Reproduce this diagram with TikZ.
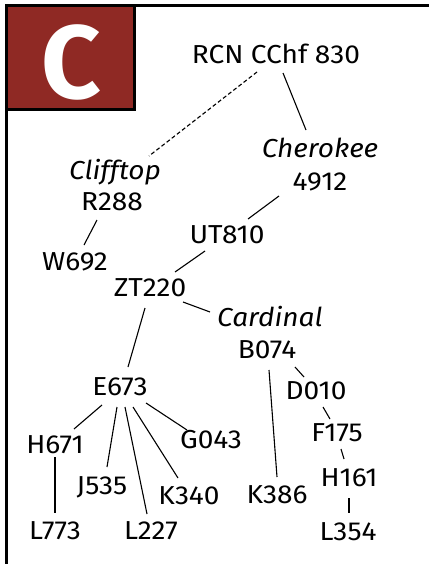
\documentclass[tikz,border=0pt]{standalone}
\usepackage{fontspec}
\setmainfont{Fira Sans}
\newfontfamily\labfont[FakeStretch=1.08]{Fira Sans}
\usetikzlibrary{calc}
\definecolor{boxred}{RGB}{143,41,36}
\tikzset{
  lab/.style={inner sep=0pt, text height=17.8pt, text depth=0pt, font=\labfont\fontsize{26}{26}\selectfont},
  ilab/.style={lab, font=\labfont\fontsize{26}{26}\selectfont\itshape},
  edge/.style={line width=1.1pt, line cap=butt},
  dedge/.style={edge, dash pattern=on 4pt off 2.5pt},
}
\begin{document}
\begin{tikzpicture}[x=1pt,y=-1pt]
\useasboundingbox (0,0) rectangle (429,564);
% frame
\draw[line width=3pt] (6,564) -- (6,6) -- (429,6);
\filldraw[fill=boxred, draw=black, line width=3pt] (6,6) rectangle (134,110);
\node[inner sep=0pt, text height=72pt, text depth=0pt, text=white, font=\fontsize{104}{104}\selectfont\bfseries] (C) at (71,63) {C};
% nodes
\node[lab] (rcn) at (276,55) {RCN CChf 830};
\node[ilab] (cher) at (320,149) {Cherokee};
\node[lab] (n4912) at (320,182) {4912};
\node[ilab] (clif) at (115,171) {Clifftop};
\node[lab] (r288) at (112,202) {R288};
\node[lab] (w692) at (75,262) {W692};
\node[lab] (ut810) at (227,235) {UT810};
\node[lab] (zt220) at (150,288) {ZT220};
\node[ilab] (card) at (270,318) {Cardinal};
\node[lab] (b074) at (267,350) {B074};
\node[lab] (d010) at (316,391) {D010};
\node[lab] (f175) at (337,433) {F175};
\node[lab] (h161) at (349,478) {H161};
\node[lab] (l354) at (348,532) {L354};
\node[lab] (k386) at (277,495) {K386};
\node[lab] (e673) at (120,387) {E673};
\node[lab] (h671) at (55,445) {H671};
\node[lab] (g043) at (211,440) {G043};
\node[lab] (j535) at (102,486) {J535};
\node[lab] (k340) at (189,496) {K340};
\node[lab] (l773) at (55,531) {L773};
\node[lab] (l227) at (151,531) {L227};
% edges
\draw[edge] ($(rcn)+(7,18)$) -- ($(cher)+(-14,-19)$);
\draw[dedge] ($(rcn)+(-19,17)$) -- ($(clif)+(34,-15)$);
\draw[edge] ($(n4912)+(-41,14)$) -- ($(ut810)+(21,-16)$);
\draw[edge] ($(r288)+(-15,18)$) -- ($(w692)+(9,-17)$);
\draw[edge] ($(ut810)+(-22,16)$) -- ($(zt220)+(25,-16)$);
\draw[edge] ($(zt220)+(33,14)$) -- ($(card)+(-60,-6)$);
\draw[edge] ($(zt220)+(-5,20)$) -- ($(e673)+(8,-20)$);
\draw[edge] ($(b074)+(2,20)$) -- ($(k386)+(0,-18)$);
\draw[edge] ($(b074)+(28,17)$) -- ($(d010)+(-12,-14)$);
\draw[edge] ($(d010)+(7,16)$) -- ($(f175)+(-7,-14)$);
\draw[edge] ($(f175)+(4,16)$) -- ($(h161)+(-5,-19)$);
\draw[edge] ($(h161)+(0,20)$) -- ($(l354)+(1,-19)$);
\draw[edge] ($(e673)+(-18,18)$) -- ($(h671)+(19,-16)$);
\draw[edge] ($(e673)+(-3,20)$) -- ($(j535)+(5,-19)$);
\draw[edge] ($(e673)+(5,20)$) -- ($(l227)+(-4,-17)$);
\draw[edge] ($(e673)+(13,20)$) -- ($(k340)+(-11,-18)$);
\draw[edge] ($(e673)+(26,16)$) -- ($(g043)+(-24,-10)$);
\draw[edge] ($(h671)+(0,12)$) -- ($(l773)+(0,-18)$);
\end{tikzpicture}
\end{document}
